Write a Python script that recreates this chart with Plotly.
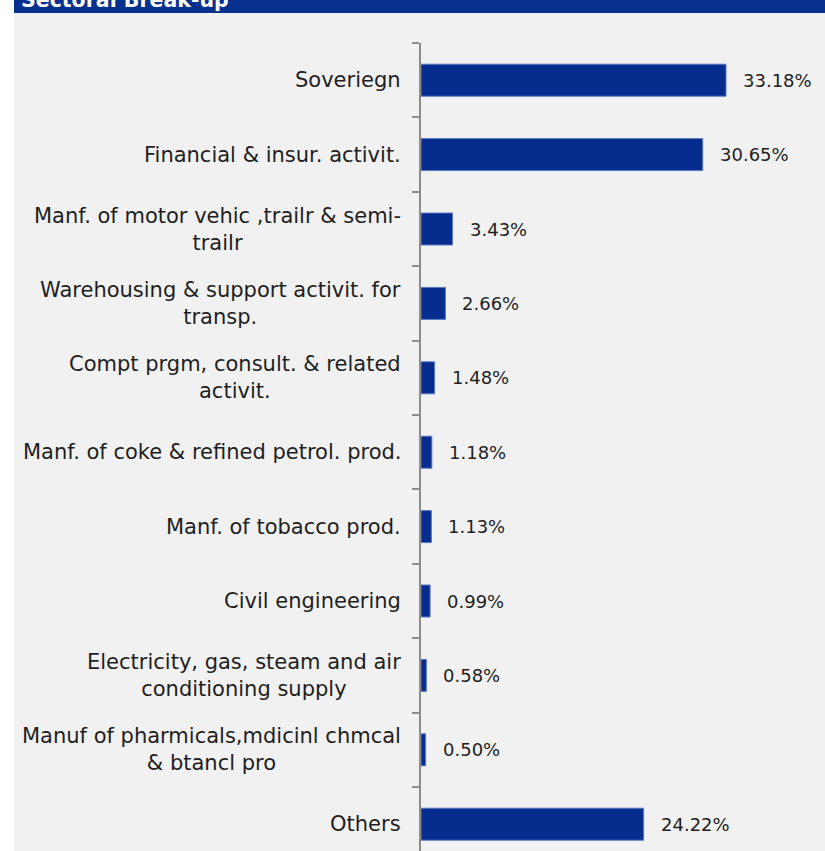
import plotly.graph_objects as go

# Sector exposure (% of portfolio)
sectors = [
    "Soveriegn",
    "Financial & insur. activit.",
    "Manf. of motor vehic ,trailr & semi-<br>trailr",
    "Warehousing & support activit. for<br>transp.",
    "Compt prgm, consult. & related<br>activit.",
    "Manf. of coke & refined petrol. prod.",
    "Manf. of tobacco prod.",
    "Civil engineering",
    "Electricity, gas, steam and air<br>conditioning supply",
    "Manuf of pharmicals,mdicinl chmcal<br>& btancl pro",
    "Others",
]
shares = [33.18, 30.65, 3.43, 2.66, 1.48, 1.18, 1.13, 0.99, 0.58, 0.50, 24.22]

BAR = "#062C8E"
GREY_BG = "#F1F1F1"
TEXT = "#1E1E1E"
FONT = "DejaVu Sans"

W, H = 825, 851
L, T = 421, 43
plot_w, plot_h = W - L, H - T
slot = 74.4  # pixel height of one category band

pos = list(range(len(sectors)))

fig = go.Figure(
    go.Bar(
        x=shares,
        y=pos,
        orientation="h",
        marker=dict(color=BAR, line=dict(color="#5B7AC0", width=1)),
        width=32 / slot,
        hoverinfo="skip",
    )
)

def px_x(x):
    return (x - L) / plot_w

def px_y(y):
    return 1 - (y - T) / plot_h

shapes = [
    # grey panel
    dict(type="rect", xref="paper", yref="paper", layer="below",
         x0=px_x(14), x1=px_x(W + 5), y0=px_y(H + 5), y1=px_y(13),
         fillcolor=GREY_BG, line=dict(width=0)),
    # header band
    dict(type="rect", xref="paper", yref="paper", layer="below",
         x0=px_x(14), x1=px_x(W + 5), y0=px_y(13), y1=px_y(-5),
         fillcolor="#07308F", line=dict(width=0)),
]

annotations = [
    dict(text="<b>Sectoral Break-up</b>", xref="paper", yref="paper",
         x=px_x(19), y=px_y(14), xanchor="left", yanchor="bottom",
         showarrow=False, font=dict(family=FONT, size=20.5, color="white")),
]

for p, name, v in zip(pos, sectors, shares):
    annotations.append(dict(
        text=name, x=0, y=p, xref="x", yref="y", xanchor="right",
        yanchor="middle", align="center", xshift=-18, showarrow=False,
        font=dict(family=FONT, size=21, color=TEXT)))
    annotations.append(dict(
        text=f"{v:.2f}%", x=v, y=p, xref="x", yref="y", xanchor="left",
        yanchor="middle", xshift=15, showarrow=False,
        font=dict(family=FONT, size=18, color=TEXT)))

x_max = plot_w / (305 / 33.18)
fig.update_layout(
    width=W, height=H,
    margin=dict(l=L, r=0, t=T, b=0, pad=0),
    paper_bgcolor="white",
    plot_bgcolor="rgba(0,0,0,0)",
    showlegend=False,
    shapes=shapes,
    annotations=annotations,
    xaxis=dict(range=[0, x_max], visible=False, fixedrange=True),
    yaxis=dict(
        range=[-0.5 + plot_h / slot, -0.5],
        tickmode="array",
        tickvals=[p - 0.5 for p in pos] + [len(pos) - 0.5],
        ticktext=[""] * (len(pos) + 1),
        ticks="outside", ticklen=7, tickwidth=1.5, tickcolor="#8C8C8C",
        showline=True, linecolor="#8C8C8C", linewidth=2,
        showgrid=False, zeroline=False, fixedrange=True,
    ),
)

fig.write_html("out.html")
